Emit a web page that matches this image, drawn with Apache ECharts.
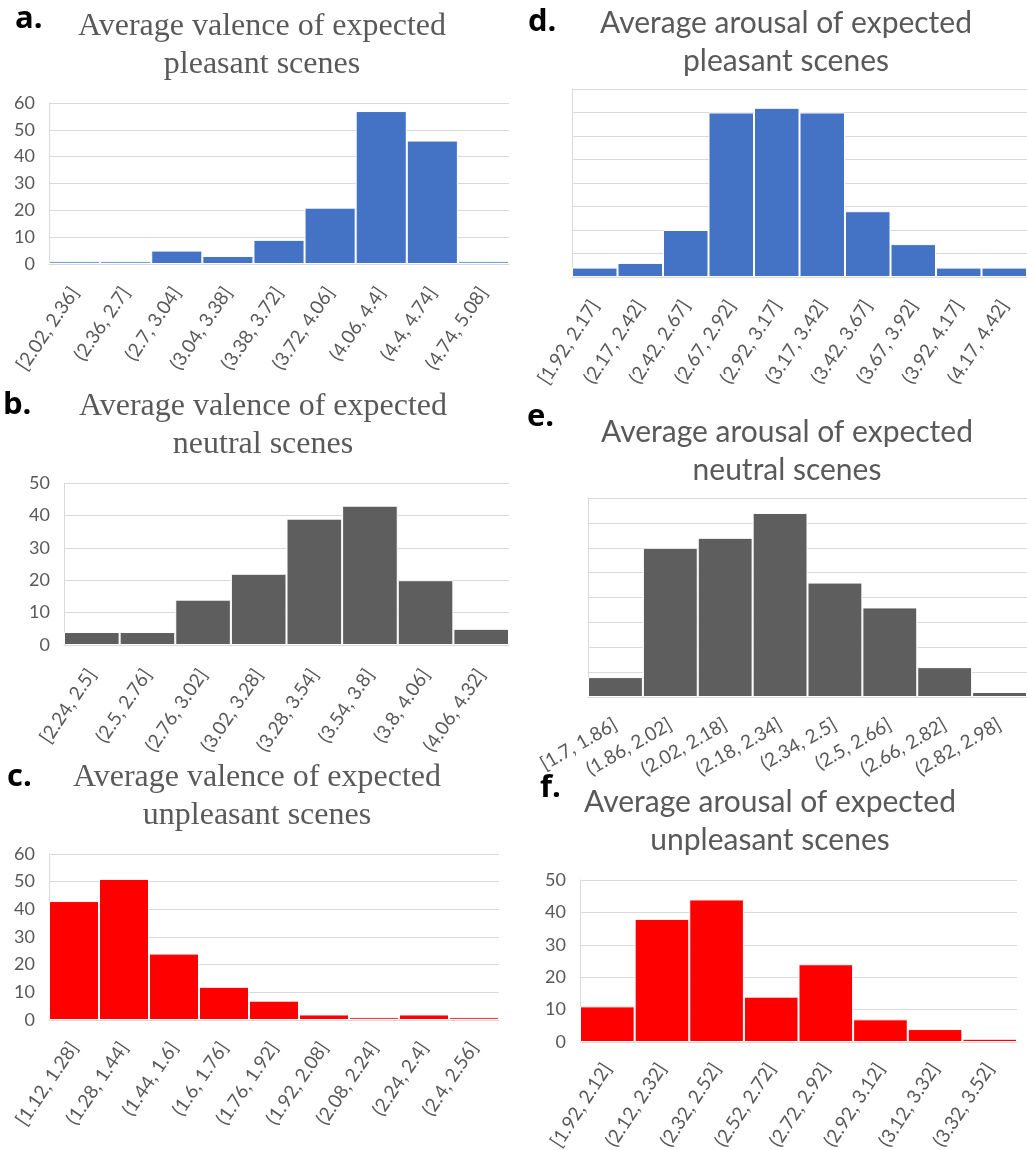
<!DOCTYPE html>
<html><head><meta charset="utf-8">
<script src="https://cdn.jsdelivr.net/npm/echarts@6/dist/echarts.min.js"></script>
<style>html,body{margin:0;padding:0;background:#fff;}#c{width:1027px;height:1150px;}</style>
</head><body><div id="c"></div>
<script>
// ---- data ----
const catsA = ["[2.02, 2.36]", "(2.36, 2.7]", "(2.7, 3.04]", "(3.04, 3.38]", "(3.38, 3.72]", "(3.72, 4.06]", "(4.06, 4.4]", "(4.4, 4.74]", "(4.74, 5.08]"];
const valsA = [1, 1, 5, 3, 9, 21, 57, 46, 1];
const catsB = ["[2.24, 2.5]", "(2.5, 2.76]", "(2.76, 3.02]", "(3.02, 3.28]", "(3.28, 3.54]", "(3.54, 3.8]", "(3.8, 4.06]", "(4.06, 4.32]"];
const valsB = [4, 4, 14, 22, 39, 43, 20, 5];
const catsC = ["[1.12, 1.28]", "(1.28, 1.44]", "(1.44, 1.6]", "(1.6, 1.76]", "(1.76, 1.92]", "(1.92, 2.08]", "(2.08, 2.24]", "(2.24, 2.4]", "(2.4, 2.56]"];
const valsC = [43, 51, 24, 12, 7, 2, 1, 2, 1];
const catsD = ["[1.92, 2.17]", "(2.17, 2.42]", "(2.42, 2.67]", "(2.67, 2.92]", "(2.92, 3.17]", "(3.17, 3.42]", "(3.42, 3.67]", "(3.67, 3.92]", "(3.92, 4.17]", "(4.17, 4.42]"];
const valsD = [2, 3, 10, 35, 36, 35, 14, 7, 2, 2];
const catsE = ["[1.7, 1.86]", "(1.86, 2.02]", "(2.02, 2.18]", "(2.18, 2.34]", "(2.34, 2.5]", "(2.5, 2.66]", "(2.66, 2.82]", "(2.82, 2.98]"];
const valsE = [4, 30, 32, 37, 23, 18, 6, 1];
const catsF = ["[1.92, 2.12]", "(2.12, 2.32]", "(2.32, 2.52]", "(2.52, 2.72]", "(2.72, 2.92]", "(2.92, 3.12]", "(3.12, 3.32]", "(3.32, 3.52]"];
const valsF = [11, 38, 44, 14, 24, 7, 4, 1];
const titleA = "Average valence of expected\npleasant scenes";
const titleB = "Average valence of expected\nneutral scenes";
const titleC = "Average valence of expected\nunpleasant scenes";
const titleD = "Average arousal of expected\npleasant scenes";
const titleE = "Average arousal of expected\nneutral scenes";
const titleF = "Average arousal of expected\nunpleasant scenes";
const yMaxA = 60, yMaxB = 50, yMaxC = 60, yMaxD = 40, yMaxE = 40, yMaxF = 50;
const yStepA = 10, yStepB = 10, yStepC = 10, yStepD = 5, yStepE = 5, yStepF = 10;

// ---- layout / style ----
const BLUE = '#4472C4', GRAY = '#5E5E5E', RED = '#FF0000';
const TXT = '#595959', GRID = '#D9D9D9';
const SERIF = '"Liberation Serif", "Times New Roman", serif';
const SANS = 'Lato, "Open Sans", sans-serif';

const panels = [
  {tag:'a.', cats:catsA, vals:valsA, max:yMaxA, step:yStepA, color:BLUE, title:titleA, font:SERIF, tsize:32,
   grid:{left:49, top:103, width:460, height:161}, showY:true, rot:56, margin:25, tx:262, ty:8, gx:15, gy:4},
  {tag:'b.', cats:catsB, vals:valsB, max:yMaxB, step:yStepB, color:GRAY, title:titleB, font:SERIF, tsize:32,
   grid:{left:64, top:483, width:445, height:162}, showY:true, rot:56, margin:26, tx:263, ty:388, gx:3, gy:390},
  {tag:'c.', cats:catsC, vals:valsC, max:yMaxC, step:yStepC, color:RED, title:titleC, font:SERIF, tsize:32,
   grid:{left:49, top:854, width:450, height:166}, showY:true, rot:56, margin:24, tx:257, ty:759, gx:7, gy:762},
  {tag:'d.', cats:catsD, vals:valsD, max:yMaxD, step:yStepD, color:BLUE, title:titleD, font:SANS, tsize:30,
   grid:{left:572, top:89, width:455, height:188}, showY:false, rot:57, margin:25, tx:786, ty:4, gx:528, gy:7},
  {tag:'e.', cats:catsE, vals:valsE, max:yMaxE, step:yStepE, color:GRAY, title:titleE, font:SANS, tsize:30,
   grid:{left:588, top:498, width:439, height:199}, showY:false, rot:30, margin:26, tx:787, ty:413, gx:527, gy:402},
  {tag:'f.', cats:catsF, vals:valsF, max:yMaxF, step:yStepF, color:RED, title:titleF, font:SANS, tsize:30,
   grid:{left:580, top:880, width:437, height:162}, showY:true, rot:57, margin:23, tx:770, ty:783, gx:540, gy:773}
];

const titles = [];
panels.forEach(p => {
  titles.push({text:p.title, left:p.tx, top:p.ty, textAlign:'center', padding:0,
    textStyle:{fontFamily:p.font, fontSize:p.tsize, fontWeight:'normal', color:TXT, lineHeight:38}});
  titles.push({text:p.tag, left:p.gx, top:p.gy, padding:0,
    textStyle:{fontFamily:'"Open Sans", sans-serif', fontSize:31, fontWeight:'bold', color:'#000', lineHeight:31}});
});

const option = {
  animation:false,
  backgroundColor:'#fff',
  title: titles,
  grid: panels.map(p => Object.assign({containLabel:false, outerBoundsMode:'none'}, p.grid)),
  xAxis: panels.map((p,i) => ({
    type:'category', gridIndex:i, data:p.cats,
    axisTick:{show:false},
    axisLine:{show:true, lineStyle:{color:GRID, width:1}},
    axisLabel:{interval:0, rotate:p.rot, margin:p.margin, fontFamily:SANS, fontSize:19, color:TXT, hideOverlap:false}
  })),
  yAxis: panels.map((p,i) => ({
    type:'value', gridIndex:i, min:0, max:p.max, interval:p.step,
    axisLine:{show:true, lineStyle:{color:GRID, width:1}},
    axisTick:{show:false},
    splitLine:{show:true, lineStyle:{color:GRID, width:1}},
    axisLabel:{show:p.showY, margin:14, fontFamily:SANS, fontSize:18, color:TXT}
  })),
  series: panels.map((p,i) => ({
    type:'bar', xAxisIndex:i, yAxisIndex:i, data:p.vals, barCategoryGap:'0%', silent:true,
    itemStyle:{color:p.color, borderColor:'#fff', borderWidth:1}
  }))
};
const chart = echarts.init(document.getElementById('c'), null, {renderer:'canvas'});
chart.setOption(option);
</script></body></html>
